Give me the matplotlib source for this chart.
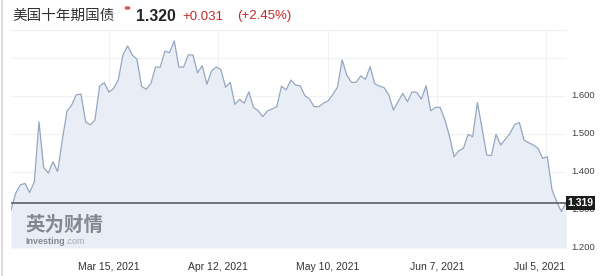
import matplotlib
matplotlib.use('Agg')
import matplotlib.pyplot as plt
import matplotlib.transforms as mtransforms
import pandas as pd

# ---------------- data ----------------
start_date = '2021-02-18'
end_date = '2021-07-10'
yields = [
    1.300, 1.344, 1.366, 1.370, 1.346, 1.374, 1.532, 1.412, 1.397, 1.427,
    1.401, 1.484, 1.560, 1.576, 1.603, 1.605, 1.532, 1.524, 1.537, 1.626,
    1.635, 1.610, 1.620, 1.642, 1.708, 1.732, 1.708, 1.697, 1.625, 1.618,
    1.633, 1.676, 1.676, 1.718, 1.714, 1.745, 1.676, 1.676, 1.708, 1.708,
    1.661, 1.680, 1.631, 1.666, 1.676, 1.670, 1.623, 1.636, 1.578, 1.591,
    1.581, 1.611, 1.570, 1.561, 1.546, 1.561, 1.566, 1.572, 1.626, 1.616,
    1.642, 1.629, 1.627, 1.601, 1.592, 1.572, 1.572, 1.581, 1.587, 1.604,
    1.623, 1.695, 1.655, 1.636, 1.636, 1.653, 1.644, 1.677, 1.632, 1.626,
    1.622, 1.603, 1.563, 1.585, 1.607, 1.585, 1.611, 1.609, 1.592, 1.627,
    1.561, 1.570, 1.570, 1.539, 1.495, 1.440, 1.456, 1.462, 1.499, 1.493,
    1.583, 1.515, 1.445, 1.443, 1.499, 1.471, 1.486, 1.502, 1.525, 1.530,
    1.484, 1.477, 1.471, 1.462, 1.436, 1.440, 1.353, 1.322, 1.296, 1.319,
]
tick_dates = ['2021-03-15', '2021-04-12', '2021-05-10', '2021-06-07', '2021-07-05']
tick_labels = ['Mar 15, 2021', 'Apr 12, 2021', 'May 10, 2021', 'Jun 7, 2021', 'Jul 5, 2021']
y_ticks = [1.2, 1.3, 1.4, 1.5, 1.6, 1.7]
y_tick_labels = ['1.200', '1.300', '1.400', '1.500', '1.600', '']
last_value = 1.319
title_name = '美国十年期国债'
price_text = '1.320'
change_text = '+0.031'
change_pct_text = '(+2.45%)'
wm_cn = '英为财情'
wm_en = 'Investing'
wm_com = '.com'

# ---------------- figure ----------------
W, H = 600, 276
fig = plt.figure(figsize=(W / 100, H / 100), dpi=100)
fig.patch.set_facecolor('white')

def fx(px):
    return px / W

def fy(py):
    return 1 - py / H

left_px, right_px, top_px, bottom_px = 11, 566, 30, 248
ax = fig.add_axes([fx(left_px), fy(bottom_px), fx(right_px - left_px), (bottom_px - top_px) / H])

dates = pd.date_range(start_date, end_date, periods=len(yields))
ymin = 1.2
ymax = 1.7737

ax.fill_between(dates, yields, ymin, color='#e9eef6', lw=0, zorder=1)
ax.plot(dates, yields, color='#93a7c1', lw=0.9, zorder=2)
ax.axhline(last_value, color='#575e66', lw=1.2, zorder=3)

ax.set_xlim(dates[0], dates[-1])
ax.set_ylim(ymin, ymax)

ax.set_xticks(pd.to_datetime(tick_dates))
ax.set_xticklabels(tick_labels, fontsize=7.5, color='#333333', family=['Liberation Sans', 'DejaVu Sans'])
ax.set_yticks(y_ticks)
ax.set_yticklabels(y_tick_labels, fontsize=6.8, color='#444444', family=['Liberation Sans', 'DejaVu Sans'])
ax.yaxis.tick_right()
ax.tick_params(axis='both', length=0)
ax.tick_params(axis='x', pad=10)
ax.tick_params(axis='y', pad=4)
ax.grid(True, color='#f1f2f4', lw=0.8, zorder=0)
ax.set_axisbelow(True)
for s in ['left', 'bottom', 'right']:
    ax.spines[s].set_visible(False)
ax.spines['top'].set_color('#eeeeee')
ax.spines['top'].set_linewidth(0.8)

# shift y labels slightly up
for lab in ax.get_yticklabels():
    lab.set_transform(lab.get_transform() + mtransforms.ScaledTranslation(0, 2 / 100, fig.dpi_scale_trans))
# last x label shifted left to fit
xl = ax.get_xticklabels()
xl[-1].set_transform(xl[-1].get_transform() + mtransforms.ScaledTranslation(-7 / 100, 0, fig.dpi_scale_trans))

# last value box
trans = mtransforms.blended_transform_factory(ax.transAxes, ax.transData)
ax.text(1.0 + 1.5 / (right_px - left_px), last_value, f'{last_value:.3f}', transform=trans,
        ha='left', va='center', fontsize=7.5, fontweight='bold', color='white',
        family=['Liberation Sans', 'DejaVu Sans'], clip_on=False, zorder=10,
        bbox=dict(boxstyle='square,pad=0.18', fc='#1c1c1c', ec='none'))

# watermark
fig.text(fx(25), fy(225), wm_cn, fontsize=14, fontweight='bold', color='#72777f', alpha=0.85,
         family=['Noto Sans CJK SC', 'DejaVu Sans'], va='center', ha='left')
fig.text(fx(25), fy(241), wm_en, fontsize=6.5, fontweight='bold', color='#72777f', alpha=0.85,
         family=['Liberation Sans', 'DejaVu Sans'], va='center', ha='left')
fig.text(fx(65), fy(241), wm_com, fontsize=6.5, color='#9aa0a8', alpha=0.85,
         family=['Liberation Sans', 'DejaVu Sans'], va='center', ha='left')

# header
fig.text(fx(12), fy(16), title_name, fontsize=10.5, color='#333333',
         family=['Noto Sans CJK SC', 'DejaVu Sans'], va='center', ha='left')
fig.patches.append(plt.Circle((fx(127.5), fy(8)), 2.2 / W, transform=fig.transFigure,
                              color='#e05050', figure=fig))
fig.text(fx(136), fy(16.5), price_text, fontsize=11.3, fontweight='bold', color='#222222',
         family=['Liberation Sans', 'DejaVu Sans'], va='center', ha='left')
fig.text(fx(182), fy(16.5), change_text, fontsize=9.5, color='#c62828',
         family=['Liberation Sans', 'DejaVu Sans'], va='center', ha='left')
fig.text(fx(237), fy(16.5), change_pct_text, fontsize=9.5, color='#c62828',
         family=['Liberation Sans', 'DejaVu Sans'], va='center', ha='left')

# left container border
fig.add_artist(plt.Line2D([fx(2), fx(2)], [0, 1], transform=fig.transFigure, color='#dddddd', lw=1.5))

fig.savefig('out.png', dpi=100, facecolor='white')
